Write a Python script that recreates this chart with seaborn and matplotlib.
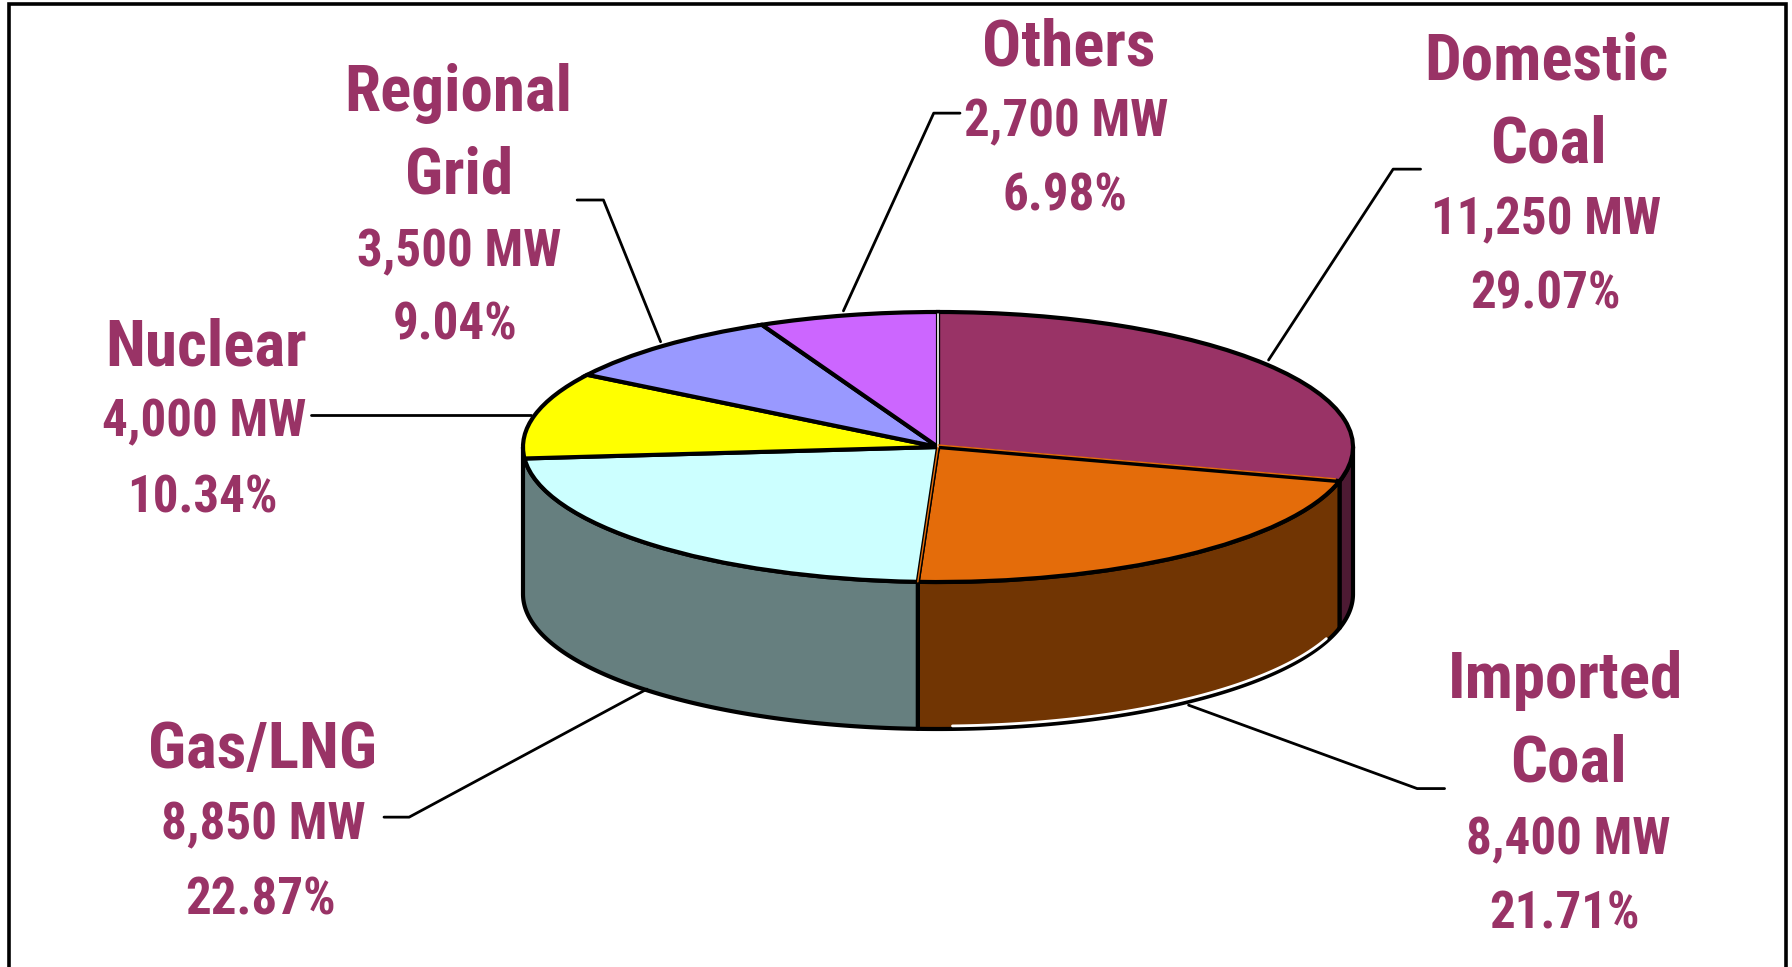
import numpy as np
import matplotlib
matplotlib.use("Agg")
import matplotlib.pyplot as plt
import seaborn as sns

# ---- data ----
sources = ["Domestic\nCoal", "Imported\nCoal", "Gas/LNG", "Nuclear", "Regional\nGrid", "Others"]
capacity_mw = [11250, 8400, 8850, 4000, 3500, 2700]
mw_labels = ["11,250 MW", "8,400 MW", "8,850 MW", "4,000 MW", "3,500 MW", "2,700 MW"]
pct_labels = ["29.07%", "21.71%", "22.87%", "10.34%", "9.04%", "6.98%"]
top_colors = ["#993366", "#E46C0A", "#CCFFFF", "#FFFF00", "#9999FF", "#CC66FF"]
wall_colors = ["#4D1A33", "#713503", "#667F7F"]

sns.set_theme(style="white")
plt.rcParams["font.family"] = ["Roboto Condensed", "Liberation Sans", "DejaVu Sans"]
TXT = "#993366"

W, H = 1792, 967
fig = plt.figure(figsize=(W / 100, H / 100), dpi=100, facecolor="white")

# ---- pie geometry (pixels of the figure) ----
CX, CY, RX, RY, DEPTH = 938.0, 447.0, 415.0, 135.0, 147.0
ax = fig.add_axes([0, 0, 1, 1])
depth_u = DEPTH / RY

shares = np.array(capacity_mw, dtype=float) / sum(capacity_mw) * 360
edges = 90 - np.concatenate([[0], np.cumsum(shares)])


def ell(theta_deg, drop=0.0):
    t = np.radians(theta_deg)
    return np.cos(t), np.sin(t) - drop


# side walls, built from the same slice angles
for i, col in enumerate(wall_colors):
    hi = min(edges[i], 0.0)
    lo = edges[i + 1] if i < 2 else -180.0
    th = np.linspace(hi, lo, 120)
    x0, y0 = ell(th)
    x1, y1 = ell(th, depth_u)
    ax.fill(np.r_[x0, x1[::-1]], np.r_[y0, y1[::-1]], facecolor=col,
            edgecolor="black", linewidth=3.0, joinstyle="round", zorder=1)

# white glint along the lower rim of the imported-coal wall
th = np.linspace(-88, edges[1] - 6, 80)
gx, gy = ell(th, depth_u - 3.0 / RY)
ax.plot(gx, gy, color="white", lw=2.0, zorder=1.5)

wedges, _ = ax.pie(capacity_mw, colors=top_colors, startangle=90, counterclock=False,
                   center=(0, 0), radius=1.0,
                   wedgeprops=dict(edgecolor="black", linewidth=3.0, zorder=2))
ax.set_aspect("auto")
ax.set_xlim((0 - CX) / RX, (W - CX) / RX)
ax.set_ylim((CY - H) / RY, CY / RY)
ax.axis("off")

# thin coloured seams seen on the slice boundaries
x0, y0 = ell(edges[0])
ax.plot([0, x0], [0, y0 - 2.0 / RY], color="white", lw=1.2, zorder=3)
x1, y1 = ell(edges[1])
ax.plot([0, x1 * 0.99], [2.0 / RY, y1 * 0.99 + 2.0 / RY], color="#E46C0A", lw=1.0, zorder=3)
x2, y2 = ell(edges[2])
ax.plot([0, x2], [0, y2], color="#E46C0A", lw=1.0, zorder=3)

# ---- overlay in figure pixels: frame, leaders, text ----
ov = fig.add_axes([0, 0, 1, 1], facecolor="none")
ov.set_xlim(0, W)
ov.set_ylim(H, 0)
ov.axis("off")
ov.plot([9, 9, 1786, 1786], [H, 4, 4, H], color="black", lw=2.6, solid_joinstyle="miter")

S = 1792 / 1568
leaders = [
    [(1243, 148), (1219, 148), (1110, 315)],
    [(1264, 690), (1240, 690), (1040, 617)],
    [(336, 715), (358, 715), (566, 603)],
    [(272, 363), (465, 363)],
    [(505, 175), (528, 175), (578, 299)],
    [(840, 99), (817, 99), (738, 272)],
]
for pts in leaders:
    xs, ys = zip(*pts)
    ov.plot(np.array(xs) * S, np.array(ys) * S, color="black", lw=2.0)

NAME_PX, SUB_PX = 65, 51
NAME_CAP, SUB_CAP = 46, 37
pt = lambda px: px * 72 / 100

name_pos = [
    [(1353, 49), (1355, 122)],
    [(1370, 591), (1372, 664)],
    [(230, 652)],
    [(180, 300)],
    [(401, 77), (402, 149)],
    [(935, 37)],
]
mw_pos = [(1353, 189), (1372, 731), (230, 718), (179, 366), (402, 217), (933, 103)]
pct_pos = [(1352, 254), (1369, 796), (228, 784), (177, 432), (398, 281), (932, 168)]

for name, nps, mw, mp, pc, pp in zip(sources, name_pos, mw_labels, mw_pos, pct_labels, pct_pos):
    for part, (x, y) in zip(name.split("\n"), nps):
        ov.text(x * S, y * S + NAME_CAP / 2, part, color=TXT, fontsize=pt(NAME_PX),
                fontweight="bold", ha="center", va="baseline")
    ov.text(mp[0] * S, mp[1] * S + SUB_CAP / 2, mw, color=TXT, fontsize=pt(SUB_PX),
            fontweight="bold", ha="center", va="baseline")
    ov.text(pp[0] * S, pp[1] * S + SUB_CAP / 2, pc, color=TXT, fontsize=pt(SUB_PX),
            fontweight="bold", ha="center", va="baseline")

fig.savefig("out.png", dpi=100)
